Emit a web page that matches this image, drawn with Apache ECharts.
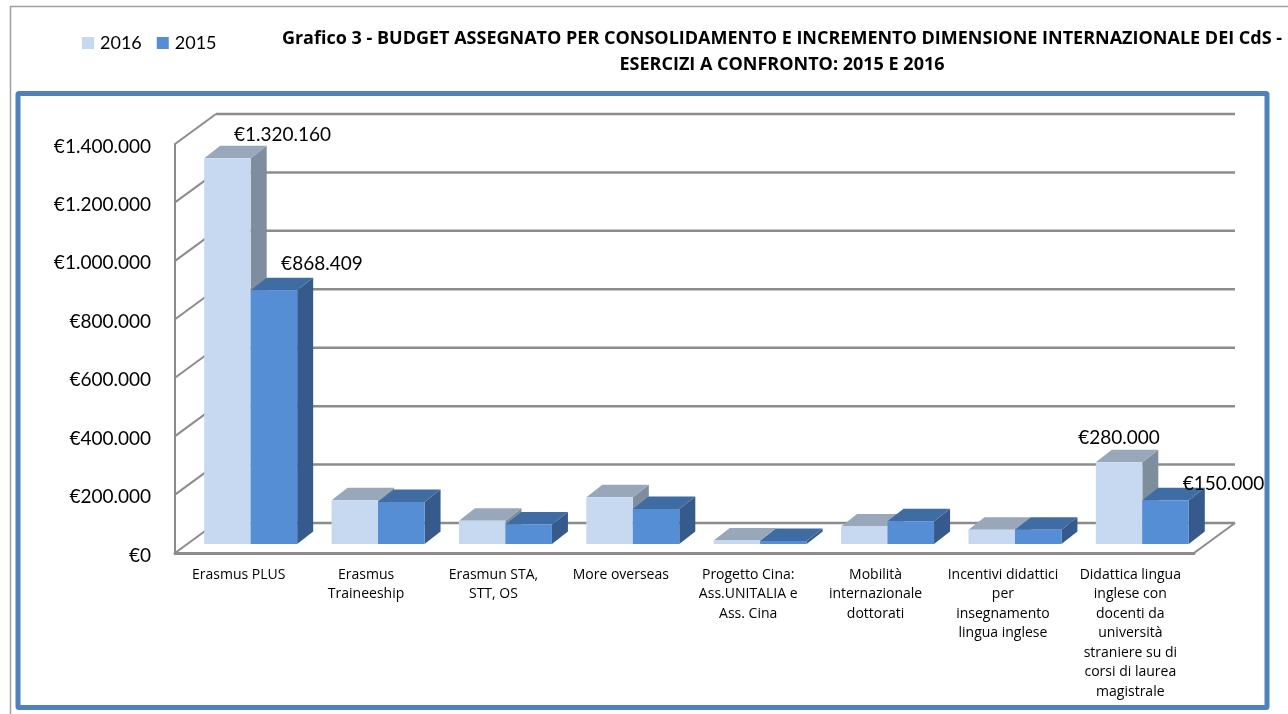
<!DOCTYPE html>
<html>
<head>
<meta charset="utf-8">
<style>html,body{margin:0;padding:0;background:#fff}</style>
<script src="https://cdn.jsdelivr.net/npm/echarts@6/dist/echarts.min.js"></script>
</head>
<body>
<div id="main" style="width:1288px;height:714px"></div>
<script>
const categories = ['Erasmus PLUS', 'Erasmus\nTraineeship', 'Erasmun STA,\nSTT, OS', 'More overseas',
  'Progetto Cina:\nAss.UNITALIA e\nAss. Cina', 'Mobilità\ninternazionale\ndottorati',
  'Incentivi didattici\nper\ninsegnamento\nlingua inglese',
  'Didattica lingua\ninglese con\ndocenti da\nuniversità\nstraniere su di\ncorsi di laurea\nmagistrale'];
const values2016 = [1320160, 150000, 80000, 160000, 12000, 60000, 49000, 280000];
const values2015 = [868409, 144000, 67000, 120000, 10000, 78000, 49000, 150000];
const yTicks = [0, 200000, 400000, 600000, 800000, 1000000, 1200000, 1400000];

// which bars carry a label, and where it sits relative to the bar's top centre
const labels2016 = {0: [55, -23], 7: [0, -24]};
const labels2015 = {0: [48, -26], 7: [58, -16]};

const font = 'Lato, "Open Sans", sans-serif';
const smallFont = '"Open Sans", Lato, sans-serif';
const euro = v => '€' + String(v).replace(/\B(?=(\d{3})+$)/g, '.');

let chart = echarts.init(document.getElementById('main'));

// floor is pushed back by this much, bars stand part way in
const wall = {dx: 41, dy: -30};
const seat = {dx: 12, dy: -9};
const depth = {dx: 16, dy: -12.5};

function renderWall(params, api) {
  let g = params.coordSys;
  let v = api.value(0);
  let y = api.coord([0, v])[1];
  let x0 = g.x, x1 = g.x + g.width;
  let style = {stroke: '#8c8c8c', lineWidth: 2, fill: null};
  let children = [
    {type: 'line', shape: {x1: x0, y1: y, x2: x0 + wall.dx, y2: y + wall.dy}, style: style},
    {type: 'line', shape: {x1: x0 + wall.dx, y1: y + wall.dy, x2: x1 + wall.dx, y2: y + wall.dy}, style: {...style, lineWidth: 2.5}}
  ];
  if (v === 0) {
    children.push({type: 'line', shape: {x1: x1, y1: y, x2: x1 + wall.dx, y2: y + wall.dy}, style: style});
  }
  return {type: 'group', children: children};
}

function bar3d(side, colors, labelMap) {
  return function (params, api) {
    let i = api.value(0);
    let v = api.value(1);
    let base = api.coord([i, 0]);
    let top = api.coord([i, v]);
    let w = api.size([1, 0])[0] * 0.365;
    let x0 = base[0] + seat.dx + (side < 0 ? -w : 0);
    let x1 = x0 + w;
    let yb = base[1] + seat.dy;
    let yt = top[1] + seat.dy;
    let d = depth;
    let children = [
      {type: 'polygon', shape: {points: [[x1, yb], [x1 + d.dx, yb + d.dy], [x1 + d.dx, yt + d.dy], [x1, yt]]}, style: {fill: colors.side}},
      {type: 'polygon', shape: {points: [[x0, yt], [x1, yt], [x1 + d.dx, yt + d.dy], [x0 + d.dx, yt + d.dy]]}, style: {fill: colors.top}},
      {type: 'rect', shape: {x: x0, y: yt, width: w, height: yb - yt}, style: {fill: colors.front}}
    ];
    if (labelMap[i]) {
      children.push({type: 'text', x: (x0 + x1) / 2 + labelMap[i][0], y: yt + labelMap[i][1],
        z2: 10,
        style: {text: euro(v), font: '19px ' + font, fill: '#000', align: 'center', verticalAlign: 'middle'}});
    }
    return {type: 'group', children: children};
  };
}

const c2016 = {front: '#c6d9f0', top: '#98a7ba', side: '#7f8e9e'};
const c2015 = {front: '#558ed5', top: '#3f6ca3', side: '#355a8b'};

chart.setOption({
  animation: false,
  backgroundColor: '#fff',
  title: {
    text: 'Grafico 3 - BUDGET ASSEGNATO PER CONSOLIDAMENTO E INCREMENTO DIMENSIONE INTERNAZIONALE DEI CdS -\nESERCIZI A CONFRONTO: 2015 E 2016',
    left: 777, top: 21, textAlign: 'center',
    textStyle: {fontFamily: smallFont, fontSize: 18, fontWeight: 'bold', color: '#000', lineHeight: 26}
  },
  legend: {
    data: ['2016', '2015'],
    left: 77, top: 29,
    icon: 'rect', itemWidth: 12, itemHeight: 12, itemGap: 15,
    textStyle: {fontFamily: font, fontSize: 18, color: '#000', padding: [0, 0, 0, 1]}
  },
  grid: {left: 175, right: 94, top: 144, bottom: 161},
  xAxis: {
    type: 'category', data: categories,
    axisTick: {show: false},
    axisLine: {lineStyle: {color: '#8c8c8c', width: 3}},
    axisLabel: {interval: 0, fontFamily: smallFont, fontSize: 14, color: '#000', lineHeight: 19.5, margin: 12}
  },
  yAxis: {
    type: 'value', min: 0, max: 1400000, interval: 200000,
    splitLine: {show: false},
    axisTick: {show: false},
    axisLine: {show: true, lineStyle: {color: '#8c8c8c', width: 2}},
    axisLabel: {
      margin: 24,
      formatter: v => '{a|' + euro(v) + '}',
      rich: {a: {fontFamily: font, fontSize: 19, color: '#000', padding: [5, 0, 0, 0]}}
    }
  },
  graphic: [
    {type: 'polyline', silent: true, z: -1, shape: {points: [[10.5, 714], [10.5, 6.5], [1288, 6.5]]}, style: {stroke: '#a0a0a0', lineWidth: 1.5, fill: null}},
    {type: 'rect', silent: true, z: -1, shape: {x: 18, y: 93.5, width: 1249, height: 614, r: 1}, style: {stroke: '#4f81bd', lineWidth: 5, fill: null}}
  ],
  series: [
    {name: 'wall', type: 'custom', renderItem: renderWall, data: yTicks.map(v => [v]), encode: {y: 0}, silent: true, z: 1},
    {name: '2016', type: 'custom', renderItem: bar3d(-1, c2016, labels2016), data: values2016.map((v, i) => [i, v]), encode: {x: 0, y: 1}, itemStyle: {color: c2016.front}, z: 2},
    {name: '2015', type: 'custom', renderItem: bar3d(1, c2015, labels2015), data: values2015.map((v, i) => [i, v]), encode: {x: 0, y: 1}, itemStyle: {color: c2015.front}, z: 3}
  ]
});
</script>
</body>
</html>
